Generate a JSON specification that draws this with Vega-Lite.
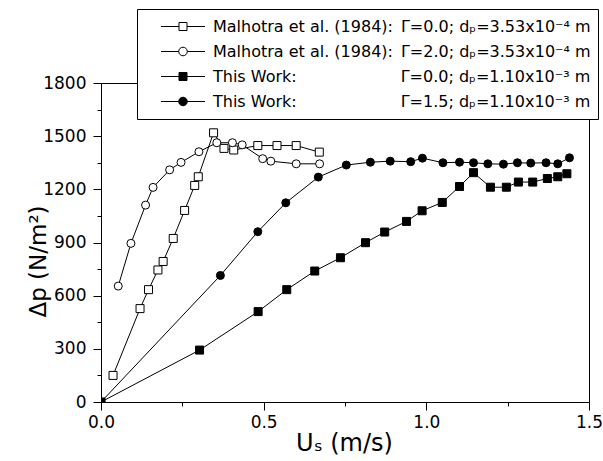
{
  "$schema": "https://vega.github.io/schema/vega-lite/v6.json",
  "width": 488,
  "height": 319,
  "autosize": {"type": "none"},
  "padding": {"left": 101, "top": 83, "right": 14, "bottom": 59},
  "background": "white",
  "data": {
    "values": [
      {"series": "m0", "us": 0.037, "dp": 150},
      {"series": "m0", "us": 0.120, "dp": 527},
      {"series": "m0", "us": 0.146, "dp": 634},
      {"series": "m0", "us": 0.175, "dp": 745},
      {"series": "m0", "us": 0.191, "dp": 793},
      {"series": "m0", "us": 0.222, "dp": 923},
      {"series": "m0", "us": 0.257, "dp": 1081},
      {"series": "m0", "us": 0.288, "dp": 1222},
      {"series": "m0", "us": 0.299, "dp": 1271},
      {"series": "m0", "us": 0.346, "dp": 1519},
      {"series": "m0", "us": 0.378, "dp": 1431},
      {"series": "m0", "us": 0.408, "dp": 1422},
      {"series": "m0", "us": 0.482, "dp": 1447},
      {"series": "m0", "us": 0.541, "dp": 1447},
      {"series": "m0", "us": 0.600, "dp": 1447},
      {"series": "m0", "us": 0.671, "dp": 1410},

      {"series": "m1", "us": 0.053, "dp": 654},
      {"series": "m1", "us": 0.092, "dp": 895},
      {"series": "m1", "us": 0.137, "dp": 1111},
      {"series": "m1", "us": 0.160, "dp": 1211},
      {"series": "m1", "us": 0.211, "dp": 1310},
      {"series": "m1", "us": 0.246, "dp": 1352},
      {"series": "m1", "us": 0.301, "dp": 1412},
      {"series": "m1", "us": 0.356, "dp": 1463},
      {"series": "m1", "us": 0.404, "dp": 1463},
      {"series": "m1", "us": 0.434, "dp": 1451},
      {"series": "m1", "us": 0.497, "dp": 1373},
      {"series": "m1", "us": 0.522, "dp": 1359},
      {"series": "m1", "us": 0.600, "dp": 1344},
      {"series": "m1", "us": 0.672, "dp": 1344},

      {"series": "t0", "us": 0.0, "dp": 0},
      {"series": "t0", "us": 0.303, "dp": 293},
      {"series": "t0", "us": 0.483, "dp": 510},
      {"series": "t0", "us": 0.571, "dp": 634},
      {"series": "t0", "us": 0.657, "dp": 739},
      {"series": "t0", "us": 0.736, "dp": 814},
      {"series": "t0", "us": 0.813, "dp": 899},
      {"series": "t0", "us": 0.872, "dp": 959},
      {"series": "t0", "us": 0.939, "dp": 1019},
      {"series": "t0", "us": 0.987, "dp": 1079},
      {"series": "t0", "us": 1.049, "dp": 1126},
      {"series": "t0", "us": 1.102, "dp": 1216},
      {"series": "t0", "us": 1.145, "dp": 1294},
      {"series": "t0", "us": 1.197, "dp": 1212},
      {"series": "t0", "us": 1.246, "dp": 1212},
      {"series": "t0", "us": 1.283, "dp": 1241},
      {"series": "t0", "us": 1.327, "dp": 1241},
      {"series": "t0", "us": 1.372, "dp": 1261},
      {"series": "t0", "us": 1.404, "dp": 1271},
      {"series": "t0", "us": 1.432, "dp": 1288},

      {"series": "t1", "us": 0.0, "dp": 0},
      {"series": "t1", "us": 0.367, "dp": 714},
      {"series": "t1", "us": 0.482, "dp": 961},
      {"series": "t1", "us": 0.568, "dp": 1124},
      {"series": "t1", "us": 0.668, "dp": 1269},
      {"series": "t1", "us": 0.754, "dp": 1337},
      {"series": "t1", "us": 0.828, "dp": 1353},
      {"series": "t1", "us": 0.889, "dp": 1359},
      {"series": "t1", "us": 0.952, "dp": 1356},
      {"series": "t1", "us": 0.988, "dp": 1376},
      {"series": "t1", "us": 1.051, "dp": 1350},
      {"series": "t1", "us": 1.102, "dp": 1353},
      {"series": "t1", "us": 1.145, "dp": 1350},
      {"series": "t1", "us": 1.189, "dp": 1344},
      {"series": "t1", "us": 1.237, "dp": 1342},
      {"series": "t1", "us": 1.280, "dp": 1350},
      {"series": "t1", "us": 1.321, "dp": 1348},
      {"series": "t1", "us": 1.368, "dp": 1350},
      {"series": "t1", "us": 1.404, "dp": 1344},
      {"series": "t1", "us": 1.440, "dp": 1378}
    ]
  },
  "encoding": {
    "x": {
      "field": "us",
      "type": "quantitative",
      "scale": {"domain": [0, 1.5], "nice": false, "zero": false},
      "axis": {
        "title": "Uₛ (m/s)",
        "values": [0, 0.25, 0.5, 0.75, 1, 1.25, 1.5],
        "labelExpr": "datum.value % 0.5 === 0 ? format(datum.value, '.1f') : ''",
        "tickSize": {"condition": {"test": "datum.value % 0.5 === 0", "value": 8}, "value": 4},
        "labelPadding": 4,
        "labelFontSize": 17,
        "labelOverlap": false,
        "labelFlush": false,
        "titleFontSize": 24,
        "titleX": 243,
        "titleY": 48,
        "titleBaseline": "alphabetic"
      }
    },
    "y": {
      "field": "dp",
      "type": "quantitative",
      "scale": {"domain": [0, 1800], "nice": false},
      "axis": {
        "title": "Δp (N/m²)",
        "values": [0, 150, 300, 450, 600, 750, 900, 1050, 1200, 1350, 1500, 1650, 1800],
        "labelExpr": "datum.value % 300 === 0 ? format(datum.value, 'd') : ''",
        "tickSize": {"condition": {"test": "datum.value % 300 === 0", "value": 8}, "value": 4},
        "labelPadding": 7,
        "labelFontSize": 17,
        "labelOverlap": false,
        "labelFlush": false,
        "titleFontSize": 23,
        "titleX": -56,
        "titleY": 178,
        "titleAngle": -90,
        "titleAlign": "center",
        "titleBaseline": "alphabetic"
      }
    }
  },
  "layer": [
    {
      "mark": {"type": "line", "color": "black", "strokeWidth": 1, "clip": true},
      "encoding": {"detail": {"field": "series"}}
    },
    {
      "mark": {"type": "point", "filled": true, "stroke": "black", "strokeWidth": 1, "size": 64, "opacity": 1, "clip": true},
      "encoding": {
        "shape": {
          "field": "series",
          "type": "nominal",
          "scale": {"range": ["square", "circle", "square", "circle"]},
          "legend": null
        },
        "fill": {
          "field": "series",
          "type": "nominal",
          "scale": {"range": ["white", "white", "black", "black"]},
          "legend": null
        }
      }
    },
    {
      "mark": {"type": "point", "filled": true, "stroke": "black", "strokeWidth": 1, "opacity": 0, "size": 64},
      "encoding": {
        "color": {
          "field": "series",
          "type": "nominal",
          "scale": {"domain": ["m0", "m1", "t0", "t1"], "range": ["white", "white", "black", "black"]},
          "legend": {
            "orient": "none",
            "legendX": 36,
            "legendY": -74,
            "zindex": 2,
            "title": null,
            "padding": 6.5,
            "strokeColor": "black",
            "fillColor": "white",
            "symbolSize": 1936,
            "symbolStrokeWidth": 1,
            "symbolStrokeColor": "black",
            "symbolOpacity": 1,
            "symbolType": {"expr": "datum.value === 'm0' || datum.value === 't0' ? 'M-1,0H-0.182M0.182,0H1M-0.182,-0.182H0.182V0.182H-0.182Z' : 'M-1,0H-0.195M0.195,0H1M-0.195,0A0.195,0.195,0,1,0,0.195,0A0.195,0.195,0,1,0,-0.195,0Z'"},
            "clipHeight": 22,
            "rowPadding": 3,
            "symbolOffset": 17,
            "labelOffset": 7.5,
            "labelFont": "DejaVu Sans",
            "labelFontSize": 16,
            "labelColor": "black",
            "labelLimit": 0,
            "labelExpr": "datum.value === 'm0' ? 'Malhotra et al. (1984):\u2002Γ=0.0; dₚ=3.53x10⁻⁴ m\u2009' : datum.value === 'm1' ? 'Malhotra et al. (1984):\u2002Γ=2.0; dₚ=3.53x10⁻⁴ m\u2009' : datum.value === 't0' ? 'This Work:\u2002\u2002\u2002\u2002\u2002\u2002\u2002\u2002\u2002\u2002\u2002\u2002\u2002Γ=0.0; dₚ=1.10x10⁻³ m\u2009' : 'This Work:\u2002\u2002\u2002\u2002\u2002\u2002\u2002\u2002\u2002\u2002\u2002\u2002\u2002Γ=1.5; dₚ=1.10x10⁻³ m\u2009'"
          }
        }
      }
    },
    {
      "mark": {"type": "point", "filled": true, "opacity": 0},
      "encoding": {
        "size": {
          "field": "series",
          "type": "ordinal",
          "scale": {"range": [1936, 1936, 1936, 1936]},
          "legend": {
            "orient": "none",
            "legendX": 41,
            "legendY": -70,
            "zindex": 1,
            "title": null,
            "padding": 6.5,
            "strokeColor": "black",
            "fillColor": "black",
            "symbolStrokeWidth": 1,
            "symbolOpacity": 0,
            "clipHeight": 22,
            "rowPadding": 3,
            "symbolOffset": 17,
            "labelOffset": 7.5,
            "labelFont": "DejaVu Sans",
            "labelFontSize": 16,
            "labelColor": "black",
            "labelLimit": 0,
            "labelExpr": "datum.value === 'm0' ? 'Malhotra et al. (1984):\u2002Γ=0.0; dₚ=3.53x10⁻⁴ m\u2009' : datum.value === 'm1' ? 'Malhotra et al. (1984):\u2002Γ=2.0; dₚ=3.53x10⁻⁴ m\u2009' : datum.value === 't0' ? 'This Work:\u2002\u2002\u2002\u2002\u2002\u2002\u2002\u2002\u2002\u2002\u2002\u2002\u2002Γ=0.0; dₚ=1.10x10⁻³ m\u2009' : 'This Work:\u2002\u2002\u2002\u2002\u2002\u2002\u2002\u2002\u2002\u2002\u2002\u2002\u2002Γ=1.5; dₚ=1.10x10⁻³ m\u2009'"
          }
        }
      }
    }
  ],
  "config": {
    "view": {"stroke": "black", "strokeWidth": 1},
    "axis": {
      "domainColor": "black",
      "domainWidth": 1,
      "tickColor": "black",
      "tickWidth": 1,
      "labelColor": "black",
      "titleColor": "black",
      "grid": false,
      "labelFont": "DejaVu Sans",
      "titleFont": "DejaVu Sans",
      "titleFontWeight": "normal"
    }
  }
}
